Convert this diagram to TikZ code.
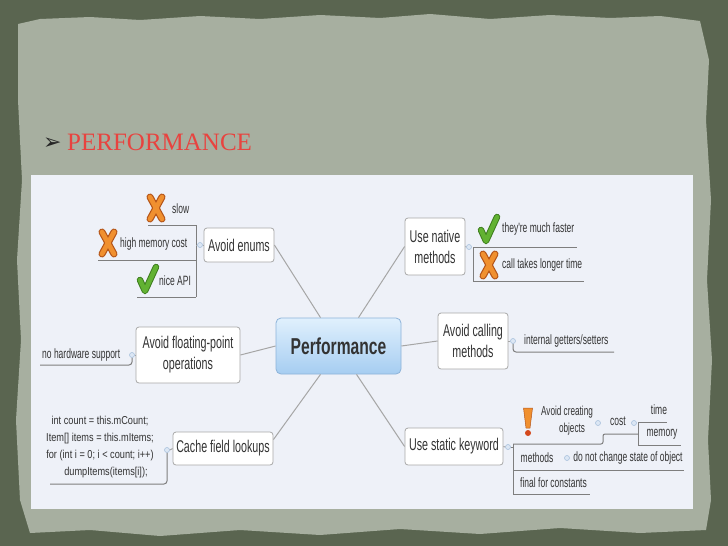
\documentclass[tikz,border=0pt]{standalone}
\usepackage{fontspec}
\setmainfont{Liberation Serif}
\newfontfamily\dfont[FakeStretch=0.63]{Liberation Sans}
\newfontfamily\bfontx[FakeStretch=0.68]{Liberation Sans Bold}
\newfontfamily\cfont[FakeStretch=0.8]{Liberation Sans}
\newfontfamily\symfont{DejaVu Sans}
\definecolor{outerc}{HTML}{5A6550}
\definecolor{paperc}{HTML}{A7AFA0}
\definecolor{panelc}{HTML}{EEF1F8}
\definecolor{titlec}{HTML}{E8433F}
\definecolor{textc}{HTML}{333333}
\definecolor{boxd}{HTML}{A8A8A8}
\definecolor{connc}{HTML}{A6A6A6}
\definecolor{ulc}{HTML}{7E7E7E}
\definecolor{knobd}{HTML}{A9C1DD}
\definecolor{knobf}{HTML}{DCE7F4}
\definecolor{perftop}{HTML}{E0F0FD}
\definecolor{perfbot}{HTML}{A6CDF1}
\definecolor{perfd}{HTML}{8DB3D9}
\definecolor{xdark}{HTML}{B5561A}
\definecolor{xorange}{HTML}{F0902F}
\definecolor{gdark}{HTML}{3E7D1F}
\definecolor{gcol}{HTML}{62B232}
\definecolor{bangdot}{HTML}{D4481C}
\tikzset{
  topic/.style={draw=boxd, fill=white, rounded corners=3pt, line width=0.8pt, inner sep=0pt,
    align=center, text=textc, font=\dfont\fontsize{17}{21}\selectfont},
  central/.style={draw=perfd, top color=perftop, bottom color=perfbot, rounded corners=5pt,
    line width=0.8pt, inner sep=0pt, text=textc, font=\bfontx\fontsize{23}{26}\selectfont},
  sub/.style={inner sep=0pt, text=textc, font=\dfont\fontsize{13.5}{16}\selectfont},
  code/.style={inner sep=0pt, text=textc, align=center, font=\cfont\fontsize{11.5}{17}\selectfont},
  conn/.style={draw=connc, line width=1pt},
  uline/.style={draw=ulc, line width=1pt},
  knob/.style={circle, draw=knobd, fill=knobf, line width=0.6pt, minimum size=5pt, inner sep=0pt},
  xicon/.pic={
    \draw[line width=7pt, line cap=round, xdark] (-6,-11) -- (6,11) (-6,11) -- (6,-11);
    \draw[line width=4.6pt, line cap=round, xorange] (-6,-11) -- (6,11) (-6,11) -- (6,-11);},
  ticon/.pic={
    \draw[line width=6.5pt, line cap=round, line join=round, gdark] (-8,1) -- (-3,12) -- (8,-12);
    \draw[line width=4.5pt, line cap=round, line join=round, gcol] (-8,1) -- (-3,12) -- (8,-12);},
  bicon/.pic={
    \fill[xorange, draw=xdark, line width=0.5pt] (-4.5,-14) -- (4.5,-14) -- (2,6) -- (-2,6) -- cycle;
    \fill[bangdot] (0,11) circle (3);}
}
\begin{document}
\begin{tikzpicture}[x=1pt,y=-1pt]
\useasboundingbox (0,0) rectangle (728,546);
% background
\fill[outerc] (0,0) rectangle (728,546);
\fill[paperc] (18,24) -- (40,19) -- (90,17) -- (140,20) -- (200,16) -- (260,19) -- (320,15) -- (380,18)
  -- (430,14) -- (490,19) -- (550,15) -- (610,18) -- (660,16) -- (700,21) -- (709,60) -- (706,120)
  -- (711,200) -- (707,280) -- (712,360) -- (708,440) -- (711,500) -- (706,530) -- (640,533)
  -- (560,528) -- (480,534) -- (400,529) -- (320,535) -- (240,530) -- (160,536) -- (90,530)
  -- (30,533) -- (20,500) -- (16,420) -- (21,340) -- (17,260) -- (22,180) -- (18,100) -- cycle;
% title
\node[anchor=base west, inner sep=0pt, text=black!85] (bul) at (43,149) {\symfont\fontsize{22}{22}\selectfont ➢};
\node[anchor=base west, inner sep=0pt, text=titlec] (title) at (67,150) {\fontsize{25}{25}\selectfont PERFORMANCE};
% panel
\fill[panelc] (31,175) rectangle (693,509);

% topics
\node[central, minimum width=125pt, minimum height=56pt] (perf) at (338.5,346) {Performance};
\node[topic, minimum width=70pt, minimum height=34pt] (enums) at (239,245) {Avoid enums};
\node[topic, minimum width=60pt, minimum height=57pt] (native) at (435,246.5) {Use native\\methods};
\node[topic, minimum width=70pt, minimum height=56pt] (calling) at (473,341) {Avoid calling\\methods};
\node[topic, minimum width=104pt, minimum height=56pt] (floating) at (188,355) {Avoid floating-point\\operations};
\node[topic, minimum width=100pt, minimum height=33pt] (cache) at (223,448.5) {Cache field lookups};
\node[topic, minimum width=98pt, minimum height=37pt] (static) at (454,446.5) {Use static keyword};

% main connectors
\draw[conn] (enums.east) -- ([xshift=-18pt]perf.north);
\draw[conn] ([xshift=20pt]perf.north) -- (native.west);
\draw[conn] (perf.east) -- (calling.west);
\draw[conn] (floating.east) -- (perf.west);
\draw[conn] ([xshift=-18pt]perf.south) -- ([yshift=-8pt]cache.north east);
\draw[conn] ([xshift=18pt]perf.south) -- (static.west);

% ---- Avoid enums children
\pic at (156,208) {xicon};
\node[sub, anchor=west] (slow) at (172,209) {slow};
\pic at (108,243) {xicon};
\node[sub, anchor=west] (hmc) at (120,244) {high memory cost};
\pic at (148,279) {ticon};
\node[sub, anchor=west] (nice) at (159,281) {nice API};
\draw[uline] (148,225) -- (196,225);
\draw[uline] (98,260) -- (196,260);
\draw[uline] (137,297) -- (196,297);
\draw[uline] (196,225) -- (196,297);
\coordinate (ej) at (196,245);
\node[knob] (k1) at (200,245) {};
\draw[conn] (ej) -- (k1.west);
\draw[conn] (k1.east) -- (enums.west);

% ---- Use native children
\pic at (489,229) {ticon};
\node[sub, anchor=west] (fast) at (502,229) {they're much faster};
\pic at (489,265) {xicon};
\node[sub, anchor=west] (longer) at (502,265) {call takes longer time};
\draw[uline] (473,247) -- (577,247);
\draw[uline] (473,281) -- (584,281);
\draw[uline] (473,247) -- (473,281);
\node[knob] (k2) at (469,247) {};
\draw[conn] (native.east) -- (k2.west);

% ---- Avoid calling child
\node[knob] (k3) at (513,341) {};
\draw[conn] (calling.east) -- (k3.west);
\node[sub, anchor=west] (getters) at (524,341) {internal getters/setters};
\draw[uline, rounded corners=3pt] (k3.south) |- (614,352);

% ---- Floating child
\node[knob] (k4) at (132,355) {};
\draw[conn] (k4.east) -- (floating.west);
\node[sub, anchor=west] (nohw) at (42,355) {no hardware support};
\draw[uline, rounded corners=3pt] (40,365) -| (k4.south);

% ---- Cache child
\node[knob] (k5) at (167,450) {};
\draw[conn] (k5.east) -- (cache.west);
\node[code] (codetxt) at (100,447) {int count = this.mCount;\\Item[] items = this.mItems;\\for (int i = 0; i < count; i++)\\\hspace*{12pt}dumpItems(items[i]);};
\draw[uline, rounded corners=3pt] (50,484) -| (k5.south);

% ---- Static children
\node[knob] (k6) at (508,447) {};
\draw[conn] (static.east) -- (k6.west);
\draw[uline] (k6.east) -- (513,447);
\draw[uline] (513,444) -- (513,494);
\draw[uline, rounded corners=2pt] (513,444) -- (603,444) -- (603,434) -- (638,434);
\pic at (528,422) {bicon};
\node[sub, align=center, font=\dfont\fontsize{13}{17}\selectfont] (avoidobj) at (567,421) {Avoid creating\\\hspace*{10pt}objects};
\node[knob] (k7) at (598,423) {};
\node[sub] (cost) at (618,421) {cost};
\node[knob] (k8) at (634,423) {};
\draw[uline] (638,422) -- (638,445);
\draw[uline] (638,422) -- (667,422);
\draw[uline] (638,445) -- (681,445);
\node[sub] (time) at (659,410) {time};
\node[sub] (memory) at (662,434) {memory};
\node[sub] (methods) at (537,458) {methods};
\node[knob] (k9) at (567,458) {};
\node[sub] (dnc) at (628,458) {do not change state of object};
\draw[uline] (513,470) -- (684,470);
\node[sub, anchor=west] (final) at (520,483) {final for constants};
\draw[uline] (513,494) -- (590,494);
\end{tikzpicture}
\end{document}
